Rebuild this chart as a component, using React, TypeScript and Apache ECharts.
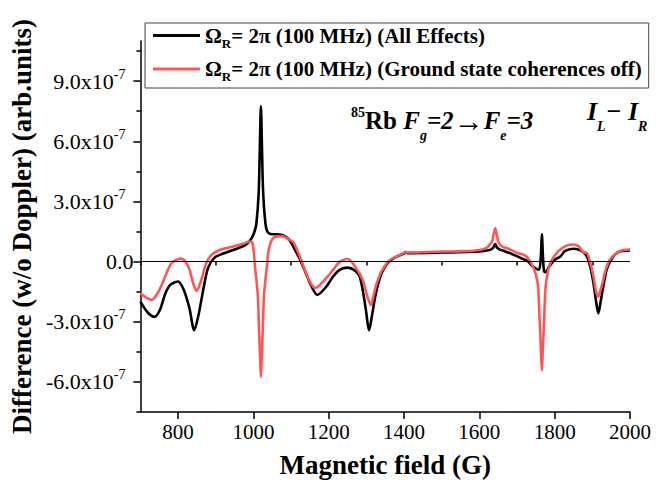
import React, { useEffect, useRef } from 'react';
import * as echarts from 'echarts';

// Magnetic field (G) and difference signal (units of 1e-7 arb.units)
const fieldBlack = [700, 720, 738, 752, 766, 780, 800, 815, 830, 843, 855, 862, 870, 880, 897, 920, 950, 980, 995, 1003, 1008, 1014, 1017.4, 1020, 1022.6, 1026, 1032, 1037, 1045, 1070, 1085, 1098, 1110, 1124, 1140, 1150, 1170, 1194, 1212, 1230, 1251, 1270, 1282, 1292, 1300, 1307, 1314, 1321, 1330, 1340, 1350, 1360, 1380, 1400, 1404, 1410, 1500, 1600, 1620, 1630, 1637, 1642, 1647, 1655, 1667, 1690, 1710, 1730, 1741, 1758, 1763, 1766, 1769, 1772, 1776, 1785, 1801, 1816, 1827, 1850, 1870, 1885, 1895, 1903, 1910, 1916, 1922, 1929, 1938, 1947, 1960, 1973, 2000];
const diffBlack = [-2.0, -2.55, -2.75, -2.4, -1.6, -1.15, -0.99, -1.4, -2.3, -3.42, -2.6, -1.9, -1.1, -0.3, 0.2, 0.4, 0.6, 0.85, 1.15, 1.5, 1.9, 3.4, 5.9, 7.74, 5.9, 3.4, 1.9, 1.5, 1.38, 1.35, 1.25, 1.02, 0.6, 0.1, -0.6, -1.06, -1.66, -1.24, -0.74, -0.4, -0.3, -0.45, -0.74, -1.6, -2.58, -3.42, -2.8, -2.0, -1.2, -0.6, -0.25, 0.0, 0.25, 0.4, 0.47, 0.42, 0.45, 0.5, 0.55, 0.6, 0.7, 0.87, 0.7, 0.6, 0.52, 0.35, 0.18, 0.0, -0.23, -0.4, 0.2, 1.36, 0.2, -0.5, -0.53, -0.25, 0.1, 0.27, 0.52, 0.64, 0.55, 0.27, -0.3, -1.07, -2.0, -2.58, -2.0, -1.24, -0.4, 0.0, 0.35, 0.5, 0.55];

const fieldRed = [700, 715, 730, 748, 766, 783, 808, 827, 840, 849, 862, 875, 890, 914, 949, 975, 990, 997, 1001, 1004, 1008, 1012, 1015, 1018, 1020, 1022, 1025, 1028, 1032, 1036, 1040, 1046, 1054, 1076, 1095, 1107, 1120, 1133, 1150, 1164, 1185, 1212, 1230, 1251, 1270, 1290, 1302, 1312, 1318, 1325, 1335, 1343, 1360, 1380, 1396, 1404, 1410, 1500, 1560, 1600, 1620, 1628, 1634, 1638, 1642, 1646, 1650, 1657, 1667, 1680, 1700, 1722, 1735, 1745, 1752, 1756, 1760, 1764, 1766, 1768, 1772, 1776, 1782, 1790, 1810, 1830, 1846, 1862, 1878, 1885, 1895, 1903, 1910, 1916, 1922, 1928, 1934, 1947, 1973, 2000];
const diffRed = [-1.57, -1.8, -1.91, -1.5, -0.74, -0.07, 0.15, -0.23, -1.07, -1.46, -0.9, -0.07, 0.35, 0.6, 0.77, 0.9, 1.0, 0.95, 0.5, -0.2, -0.9, -1.74, -3.4, -4.8, -5.76, -4.8, -3.4, -1.74, -0.9, -0.2, 0.5, 0.95, 1.2, 1.27, 1.1, 0.94, 0.4, -0.23, -1.0, -1.32, -1.0, -0.4, 0.0, 0.13, -0.25, -0.9, -1.7, -2.16, -1.8, -1.24, -0.7, -0.4, 0.05, 0.25, 0.4, 0.47, 0.45, 0.5, 0.52, 0.58, 0.7, 0.85, 1.02, 1.36, 1.66, 1.36, 1.02, 0.8, 0.7, 0.62, 0.44, 0.3, 0.0, -0.35, -0.8, -1.24, -2.9, -4.6, -5.43, -4.6, -2.9, -1.24, -0.5, 0.0, 0.52, 0.78, 0.85, 0.78, 0.45, 0.44, -0.1, -0.74, -1.5, -1.74, -1.4, -1.0, -0.5, 0.1, 0.52, 0.6];

const xMajorTicks = [800, 1000, 1200, 1400, 1600, 1800, 2000];
const xMinorTicks = [700, 900, 1100, 1300, 1500, 1700, 1900];
const yMajorTicks = [-6, -3, 0, 3, 6, 9];
const yMinorTicks = [-7.5, -4.5, -1.5, 1.5, 4.5, 7.5, 10.5];
const seriesNames = ['All Effects', 'Ground state coherences off'];
const seriesColors = ['#000000', '#ff5555'];

export default function App() {
  const ref = useRef<HTMLDivElement>(null);
  useEffect(() => {
    const chart = echarts.init(ref.current!, null, { renderer: 'svg' });
    const serif = '"Liberation Serif", "Times New Roman", serif';
    const zip = (xs: number[], ys: number[]) => xs.map((x, i) => [x, ys[i]]);
    const tickStyle = { color: '#000', width: 1.5 };
    const baseText = { fontFamily: serif, color: '#000' };

    chart.setOption({
      animation: false,
      backgroundColor: '#fff',
      grid: { left: 135, right: 31, top: 41, bottom: 71 },
      legend: {
        orient: 'vertical',
        left: 145,
        top: 23,
        padding: [2, 7, 5, 8],
        itemGap: 9,
        itemWidth: 47,
        itemHeight: 3,
        icon: 'rect',
        borderColor: '#444',
        borderWidth: 1,
        data: seriesNames,
        formatter: (n: string) => `{o|Ω}{s|R}{t|= 2π (100 MHz) (${n})}`,
        textStyle: {
          rich: {
            o: { ...baseText, fontSize: 21, fontWeight: 'bold', lineHeight: 28, verticalAlign: 'middle' },
            s: { ...baseText, fontSize: 13, fontWeight: 'bold', lineHeight: 13, verticalAlign: 'bottom' },
            t: { ...baseText, fontSize: 21, fontWeight: 'bold', lineHeight: 28, verticalAlign: 'middle' },
          },
        },
      },
      xAxis: [
        {
          type: 'value',
          min: 700,
          max: 2000,
          interval: 100,
          position: 'bottom',
          name: 'Magnetic field (G)',
          nameLocation: 'middle',
          nameGap: 39,
          nameTextStyle: { ...baseText, fontSize: 27, fontWeight: 'bold' },
          axisLine: { show: true, onZero: false, lineStyle: tickStyle },
          axisTick: { show: true, customValues: xMajorTicks, length: 7, lineStyle: tickStyle },
          axisLabel: {
            customValues: xMajorTicks,
            ...baseText,
            fontSize: 21,
            margin: 9,
            formatter: (v: number) => String(v),
          },
          splitLine: { show: false },
        },
        {
          type: 'value',
          min: 700,
          max: 2000,
          interval: 100,
          position: 'bottom',
          axisLine: { show: false },
          axisTick: { show: true, customValues: xMinorTicks, length: 4, lineStyle: tickStyle },
          axisLabel: { show: false },
          splitLine: { show: false },
        },
      ],
      yAxis: [
        {
          type: 'value',
          min: -7.5,
          max: 11,
          interval: 1.5,
          position: 'left',
          name: 'Difference (w/o Doppler) (arb.units)',
          nameLocation: 'middle',
          nameGap: 98,
          nameTextStyle: { ...baseText, fontSize: 27, fontWeight: 'bold' },
          axisLine: { show: true, onZero: false, lineStyle: tickStyle },
          axisTick: { show: true, customValues: yMajorTicks, length: 7, lineStyle: tickStyle },
          axisLabel: {
            customValues: yMajorTicks,
            margin: 7,
            formatter: (v: number) => (v === 0 ? '{a|0.0}' : `{a|${v.toFixed(1)}x10}{b|-7}`),
            rich: {
              a: { ...baseText, fontSize: 22, lineHeight: 28, verticalAlign: 'middle' },
              b: { ...baseText, fontSize: 14, lineHeight: 14, verticalAlign: 'top', padding: [0, 8, 0, 0] },
            },
          },
          splitLine: { show: false },
        },
        {
          type: 'value',
          min: -7.5,
          max: 11,
          interval: 1.5,
          position: 'left',
          axisLine: { show: false },
          axisTick: { show: true, customValues: yMinorTicks, length: 4, lineStyle: tickStyle },
          axisLabel: { show: false },
          splitLine: { show: false },
        },
      ],
      series: [
        {
          name: seriesNames[0],
          type: 'line',
          xAxisIndex: 0,
          yAxisIndex: 0,
          data: zip(fieldBlack, diffBlack),
          showSymbol: false,
          smooth: 0.3,
          lineStyle: { color: seriesColors[0], width: 2.6 },
          itemStyle: { color: seriesColors[0] },
          markLine: {
            silent: true,
            symbol: 'none',
            label: { show: false },
            lineStyle: { color: '#000', width: 1, type: 'solid' },
            data: [{ yAxis: 0 }],
          },
          z: 2,
        },
        {
          name: seriesNames[1],
          type: 'line',
          xAxisIndex: 0,
          yAxisIndex: 0,
          data: zip(fieldRed, diffRed),
          showSymbol: false,
          smooth: 0.3,
          lineStyle: { color: seriesColors[1], width: 2.6 },
          itemStyle: { color: seriesColors[1] },
          z: 3,
        },
      ],
      graphic: [
        {
          type: 'text',
          left: 351,
          top: 98,
          style: {
            text: '{sup|85}{rb|Rb }{it|F}{sub|g}{it|=2}{ar|→}{it|F}{sub|e}{it|=3}',
            rich: {
              sup: { ...baseText, fontSize: 14, fontWeight: 'bold', lineHeight: 14, verticalAlign: 'top', padding: [7, 0, 0, 0] },
              rb: { ...baseText, fontSize: 25, fontWeight: 'bold', lineHeight: 44, verticalAlign: 'middle' },
              it: { ...baseText, fontSize: 25, fontWeight: 'bold', fontStyle: 'italic', lineHeight: 44, verticalAlign: 'middle' },
              ar: { ...baseText, fontSize: 30, lineHeight: 44, verticalAlign: 'middle' },
              sub: { ...baseText, fontSize: 14, fontWeight: 'bold', fontStyle: 'italic', lineHeight: 14, verticalAlign: 'bottom' },
            },
          },
        },
        {
          type: 'text',
          left: 587,
          top: 98,
          style: {
            text: '{it|I}{sub|L}{it|− I}{sub|R}',
            rich: {
              it: { ...baseText, fontSize: 26, fontWeight: 'bold', fontStyle: 'italic', lineHeight: 44, verticalAlign: 'middle' },
              sub: { ...baseText, fontSize: 14, fontWeight: 'bold', fontStyle: 'italic', lineHeight: 14, verticalAlign: 'bottom' },
            },
          },
        },
      ],
    });
    return () => chart.dispose();
  }, []);
  return (
    <div
      ref={ref}
      style={{ position: 'fixed', left: 0, top: 0, width: 661, height: 483, background: '#fff' }}
    />
  );
}
